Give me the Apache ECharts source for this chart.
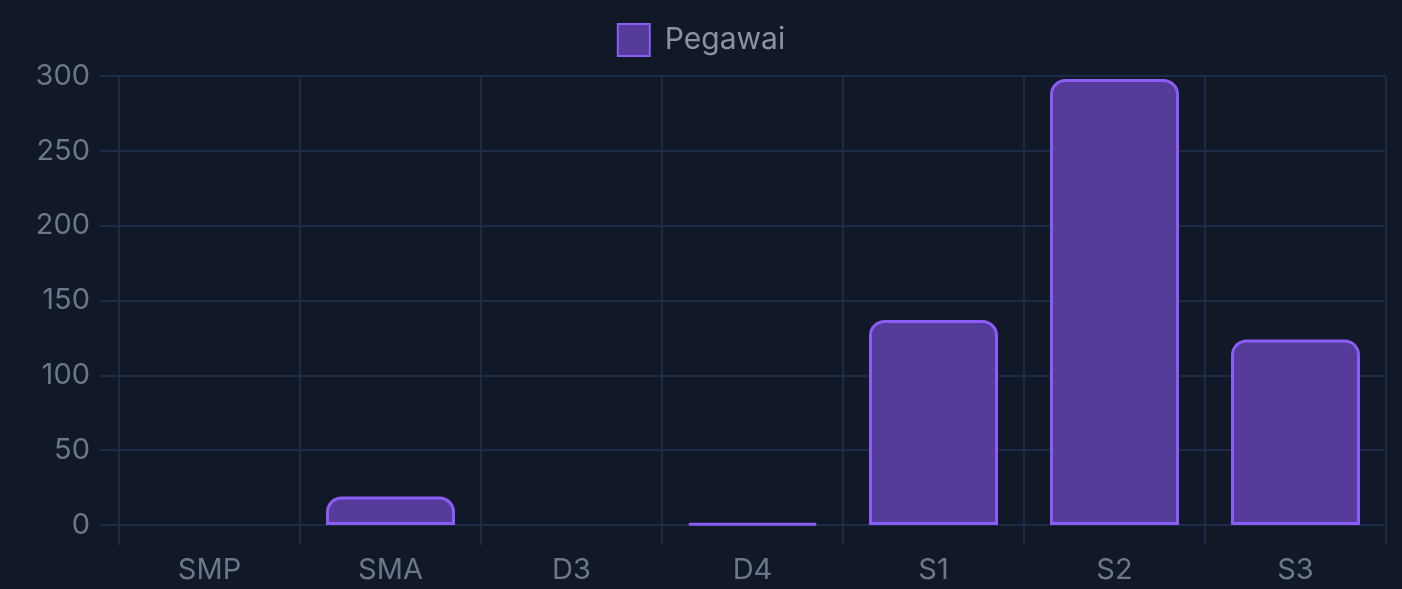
<!DOCTYPE html>
<html>
<head>
<meta charset="utf-8">
<script src="https://cdn.jsdelivr.net/npm/echarts@6/dist/echarts.min.js"></script>
<style>
  html, body { margin: 0; padding: 0; background: #111827; }
  #chart { width: 1402px; height: 589px; }
</style>
</head>
<body>
<div id="chart"></div>
<script>
const categories = ["SMP", "SMA", "D3", "D4", "S1", "S2", "S3"];
const pegawaiValues = [0, 19, 0, 1, 137, 298, 124];
const seriesName = "Pegawai";

const gridColor = "#1c2b48";
const textColor = "#6b778a";

const chart = echarts.init(document.getElementById("chart"), null, { renderer: "canvas" });

const option = {
  backgroundColor: "#111827",
  textStyle: { fontFamily: "Inter, sans-serif" },
  animation: false,
  legend: {
    top: 18,
    left: "center",
    icon: "rect",
    itemWidth: 32,
    itemHeight: 32,
    itemGap: 15,
    textStyle: { color: "#8a93a3", fontSize: 30, padding: [0, 0, 0, 10], fontFamily: "Inter, sans-serif" },
    data: [seriesName]
  },
  grid: { left: 119, right: 16, top: 76, bottom: 64 },
  xAxis: {
    type: "category",
    data: categories,
    boundaryGap: true,
    axisLine: { show: false },
    axisTick: { show: true, length: 20, lineStyle: { color: gridColor, width: 2 } },
    splitLine: { show: true, lineStyle: { color: gridColor, width: 2 } },
    axisLabel: { color: textColor, fontSize: 29, margin: 31 }
  },
  yAxis: {
    type: "value",
    min: 0,
    max: 300,
    interval: 50,
    axisLine: { show: false },
    axisTick: { show: true, length: 19, lineStyle: { color: gridColor, width: 2 } },
    splitLine: { show: true, lineStyle: { color: gridColor, width: 2 } },
    axisLabel: { color: textColor, fontSize: 29, margin: 29 }
  },
  series: [
    {
      name: seriesName,
      type: "bar",
      barWidth: 129,
      data: pegawaiValues.map(v => ({
        value: v,
        itemStyle: v === 0 ? { borderWidth: 0, opacity: 0 } : {}
      })),
      itemStyle: {
        color: "#553c9a",
        borderColor: "#8b5cf6",
        borderWidth: 3,
        borderRadius: [14, 14, 0, 0]
      }
    }
  ]
};

chart.setOption(option);
window.addEventListener("resize", () => chart.resize());
</script>
</body>
</html>
